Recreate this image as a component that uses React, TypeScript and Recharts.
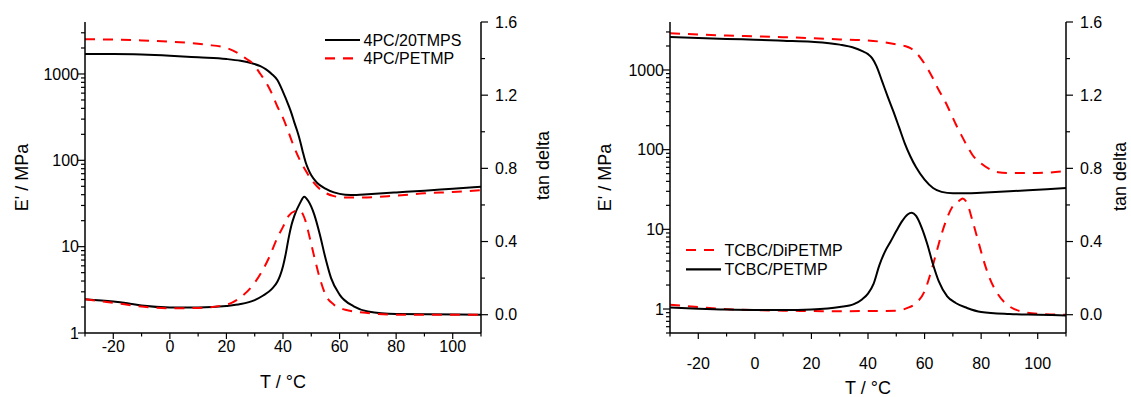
import React from 'react';
import { ComposedChart, Line, XAxis, YAxis, Legend, Label } from 'recharts';

const FONT = '"Liberation Sans", Arial, Helvetica, sans-serif';
const BLACK = '#000000';
const RED = '#ff0000';
const DASH = '10 8';

// ---------- Panel A: 4PC/20TMPS (black) and 4PC/PETMP (red) ----------
const A_TMPS_E_T = [-30, -20, -10, 0, 10, 20, 25, 29, 32, 34, 36, 38, 40, 42, 43, 44, 45, 46, 47, 48, 49, 50, 52, 55, 58, 62, 66, 70, 80, 90, 100, 110];
const A_TMPS_E = [1700, 1700, 1680, 1630, 1560, 1490, 1420, 1330, 1230, 1130, 1000, 850, 620, 430, 350, 275, 220, 170, 125, 95, 78, 67, 55, 47, 42.5, 40, 39.7, 40.5, 42.5, 44.5, 47, 49.5];

const A_PETMP_E_T = [-30, -20, -10, 0, 13, 20, 24, 27, 29.5, 32, 34, 36, 38, 40, 42, 44, 46, 48, 50, 52, 55, 58, 62, 68, 80, 90, 100, 110];
const A_PETMP_E = [2530, 2500, 2450, 2370, 2180, 2000, 1750, 1500, 1300, 1000, 800, 600, 420, 310, 210, 140, 100, 76, 60, 50, 42, 38.5, 37, 37, 39, 41.5, 43, 45];

const A_TMPS_TAN_T = [-30, -20, -15, -10, 0, 10, 20, 25, 30, 33, 36, 38, 39, 40, 41, 42, 43, 44, 46, 47.5, 49, 51, 53, 55, 57, 60, 65, 70, 80, 110];
const A_TMPS_TAN = [0.085, 0.072, 0.062, 0.05, 0.04, 0.04, 0.048, 0.058, 0.08, 0.105, 0.14, 0.18, 0.215, 0.265, 0.335, 0.42, 0.49, 0.54, 0.61, 0.645, 0.62, 0.55, 0.44, 0.31, 0.2, 0.11, 0.046, 0.018, 0.004, 0.0];

const A_PETMP_TAN_T = [-30, -20, -10, 0, 10, 20, 25, 30, 35, 38, 40, 42, 44, 46, 47, 48, 49, 51, 53, 55, 58, 62, 70, 80, 110];
const A_PETMP_TAN = [0.085, 0.065, 0.045, 0.035, 0.037, 0.055, 0.095, 0.175, 0.31, 0.42, 0.48, 0.54, 0.565, 0.57, 0.55, 0.51, 0.45, 0.32, 0.2, 0.11, 0.055, 0.027, 0.009, 0.0, 0.0];

// ---------- Panel B: TCBC/DiPETMP (red) and TCBC/PETMP (black) ----------
const B_PETMP_E_T = [-30, -10, 0, 10, 20, 30, 35, 38, 40, 41.5, 43, 45, 47, 49, 51, 53, 55, 57, 60, 63, 66, 70, 75, 80, 90, 100, 110];
const B_PETMP_E = [2590, 2450, 2400, 2330, 2260, 2080, 1900, 1720, 1580, 1400, 1120, 720, 460, 300, 190, 120, 82, 60, 42, 33, 29.5, 28.3, 28.3, 28.8, 30, 31.4, 32.9];

const B_DIPETMP_E_T = [-30, -10, 0, 10, 20, 30, 40, 45, 50, 53, 55, 57, 59, 61, 63, 65, 67, 69, 71, 73, 75, 77, 80, 83, 86, 90, 100, 110];
const B_DIPETMP_E = [2900, 2700, 2650, 2580, 2510, 2420, 2345, 2250, 2100, 2000, 1880, 1650, 1350, 1050, 780, 560, 420, 300, 210, 152, 112, 85, 67, 57, 52, 51, 51, 54];

const B_PETMP_TAN_T = [-30, -20, -10, 0, 10, 20, 30, 35, 38, 40, 42, 44, 46, 48, 50, 52, 54, 55.5, 57, 59, 61, 63, 65, 68, 71, 75, 80, 90, 100, 110];
const B_PETMP_TAN = [0.04, 0.033, 0.028, 0.026, 0.026, 0.029, 0.042, 0.058, 0.085, 0.115, 0.17, 0.27, 0.345, 0.4, 0.457, 0.51, 0.548, 0.557, 0.54, 0.475, 0.384, 0.274, 0.183, 0.1, 0.064, 0.037, 0.015, 0.004, 0.0, -0.004];

const B_DIPETMP_TAN_T = [-30, -20, -10, 0, 10, 20, 30, 40, 50, 54, 57, 60, 62, 64, 66, 68, 70, 72, 73.5, 75, 77, 79, 81, 83, 86, 90, 95, 100, 110];
const B_DIPETMP_TAN = [0.055, 0.042, 0.03, 0.025, 0.022, 0.02, 0.019, 0.02, 0.022, 0.037, 0.064, 0.128, 0.22, 0.33, 0.44, 0.53, 0.594, 0.62, 0.635, 0.61, 0.51, 0.4, 0.29, 0.2, 0.11, 0.046, 0.015, 0.005, 0.0];

// ---------- Axes ----------
const X_DOMAIN = [-30, 110];
const X_TICKS = [-30, -20, -10, 0, 10, 20, 30, 40, 50, 60, 70, 80, 90, 100, 110];
const X_LABELS = [-20, 0, 20, 40, 60, 80, 100];
const TAN_DOMAIN = [-0.1, 1.6];
const TAN_TICKS = [0, 0.2, 0.4, 0.6, 0.8, 1.0, 1.2, 1.4, 1.6];
const TAN_LABELS = [0, 0.4, 0.8, 1.2, 1.6];
const LOG_LABELS = [1, 10, 100, 1000];
const LOG_TICKS_A = [1, 2, 3, 4, 5, 6, 7, 8, 9, 10, 20, 30, 40, 50, 60, 70, 80, 90, 100, 200, 300, 400, 500, 600, 700, 800, 900, 1000, 2000, 3000];
const LOG_TICKS_B = [0.5, 0.6, 0.7, 0.8, 0.9, ...LOG_TICKS_A];
const E_DOMAIN_A = [1, 4000];
const E_DOMAIN_B = [0.5, 4000];

type Pt = { T: number; v: number };
const zip = (ts: number[], vs: number[]): Pt[] => ts.map((t, i) => ({ T: t, v: vs[i] }));

type Series = { name: string; color: string; dash?: string; eT: number[]; e: number[]; tT: number[]; tan: number[] };

const SERIES_A: Series[] = [
  { name: '4PC/20TMPS', color: BLACK, eT: A_TMPS_E_T, e: A_TMPS_E, tT: A_TMPS_TAN_T, tan: A_TMPS_TAN },
  { name: '4PC/PETMP', color: RED, dash: DASH, eT: A_PETMP_E_T, e: A_PETMP_E, tT: A_PETMP_TAN_T, tan: A_PETMP_TAN },
];
const SERIES_B: Series[] = [
  { name: 'TCBC/DiPETMP', color: RED, dash: DASH, eT: B_DIPETMP_E_T, e: B_DIPETMP_E, tT: B_DIPETMP_TAN_T, tan: B_DIPETMP_TAN },
  { name: 'TCBC/PETMP', color: BLACK, eT: B_PETMP_E_T, e: B_PETMP_E, tT: B_PETMP_TAN_T, tan: B_PETMP_TAN },
];

const TXT = { fontFamily: FONT, fontSize: 16, fill: '#000' } as const;
const TITLE = { fontFamily: FONT, fontSize: 18, fill: '#000' } as const;

const LeftLogTick = (p: any) => {
  const { x, y, payload } = p;
  const v = payload.value;
  const major = LOG_LABELS.includes(v);
  return (
    <g>
      <line x1={x} x2={x - (major ? 7 : 4)} y1={y} y2={y} stroke="#000" strokeWidth={1.2} />
      {major && (
        <text x={x - 6} y={y} dy="0.36em" textAnchor="end" {...TXT}>{String(v)}</text>
      )}
    </g>
  );
};

const RightTanTick = (p: any) => {
  const { x, y, payload } = p;
  const v = payload.value;
  const major = TAN_LABELS.some((m) => Math.abs(m - v) < 1e-9);
  return (
    <g>
      <line x1={x} x2={x + (major ? 7 : 4)} y1={y} y2={y} stroke="#000" strokeWidth={1.2} />
      {major && (
        <text x={x + 14} y={y} dy="0.36em" textAnchor="start" {...TXT}>{v.toFixed(1)}</text>
      )}
    </g>
  );
};

const makeBottomTick = (labelDy: number) => (p: any) => {
  const { x, y, payload } = p;
  const v = payload.value;
  const major = X_LABELS.includes(v);
  return (
    <g>
      <line x1={x} x2={x} y1={y} y2={y + (major ? 6 : 3.5)} stroke="#000" strokeWidth={1.2} />
      {major && (
        <text x={x} y={y + labelDy} dy="0.36em" textAnchor="middle" {...TXT}>{String(v)}</text>
      )}
    </g>
  );
};

const makeLegend = (series: Series[], rowGap: number) => (props: any) => {
  const payload: any[] = props.payload || [];
  const items = series.filter((s) => payload.some((pl) => pl.value === s.name));
  return (
    <svg width={200} height={50} style={{ display: 'block' }}>
      {items.map((s, i) => {
        const cy = 9 + i * rowGap;
        return (
          <g key={s.name}>
            <line x1={0} x2={35} y1={cy} y2={cy} stroke={s.color} strokeWidth={2.2} strokeDasharray={s.dash} />
            <text x={38.5} y={cy} dy="0.36em" {...TXT}>{s.name}</text>
          </g>
        );
      })}
    </svg>
  );
};

type PanelProps = {
  left: number;
  width: number;
  leftW: number;
  rightW: number;
  series: Series[];
  eDomain: number[];
  eTicks: number[];
  xLabelDy: number;
  xTitleDy: number;
  yTitleOff: number;
  tanTitleOff: number;
  tanTitleDy: number;
  legendX: number;
  legendY: number;
  legendGap: number;
};

const Panel = (pp: PanelProps) => {
  const BottomTick = makeBottomTick(pp.xLabelDy);
  return (
    <div style={{ position: 'absolute', left: pp.left, top: 0, width: pp.width, height: 397 }}>
      <ComposedChart width={pp.width} height={397} margin={{ top: 22, right: 0, bottom: 24, left: 0 }}>
        <XAxis
          xAxisId="x"
          dataKey="T"
          type="number"
          domain={X_DOMAIN}
          ticks={X_TICKS}
          interval={0}
          allowDataOverflow
          height={40}
          tickSize={0}
          tickMargin={0}
          tickLine={false}
          tick={BottomTick}
          axisLine={{ stroke: '#000', strokeWidth: 1.5 }}
        >
          <Label
            content={(lp: any) => {
              const vb = lp.viewBox;
              return (
                <text x={vb.x + vb.width / 2} y={vb.y + pp.xTitleDy} dy="0.36em" textAnchor="middle" {...TITLE}>
                  T / °C
                </text>
              );
            }}
          />
        </XAxis>
        <XAxis
          xAxisId="top"
          orientation="top"
          type="number"
          domain={X_DOMAIN}
          height={0}
          tick={false}
          tickLine={false}
          axisLine={{ stroke: '#000', strokeWidth: 1.5 }}
        />
        <YAxis
          yAxisId="E"
          orientation="left"
          scale="log"
          type="number"
          domain={pp.eDomain}
          ticks={pp.eTicks}
          interval={0}
          allowDataOverflow
          width={pp.leftW}
          tickSize={0}
          tickMargin={0}
          tickLine={false}
          tick={LeftLogTick}
          axisLine={{ stroke: '#000', strokeWidth: 1.5 }}
        >
          <Label
            content={(lp: any) => {
              const vb = lp.viewBox;
              const cx = vb.x + vb.width - pp.yTitleOff;
              const cy = vb.y + vb.height / 2;
              return (
                <text x={cx} y={cy} dy="0.36em" textAnchor="middle" transform={`rotate(-90 ${cx} ${cy})`} {...TITLE}>
                  E' / MPa
                </text>
              );
            }}
          />
        </YAxis>
        <YAxis
          yAxisId="tan"
          orientation="right"
          type="number"
          domain={TAN_DOMAIN}
          ticks={TAN_TICKS}
          interval={0}
          allowDataOverflow
          width={pp.rightW}
          tickSize={0}
          tickMargin={0}
          tickLine={false}
          tick={RightTanTick}
          axisLine={{ stroke: '#000', strokeWidth: 1.5 }}
        >
          <Label
            content={(lp: any) => {
              const vb = lp.viewBox;
              const cx = vb.x + pp.tanTitleOff;
              const cy = vb.y + vb.height / 2 + pp.tanTitleDy;
              return (
                <text x={cx} y={cy} dy="0.36em" textAnchor="middle" transform={`rotate(-90 ${cx} ${cy})`} {...TITLE}>
                  tan delta
                </text>
              );
            }}
          />
        </YAxis>
        <Legend
          layout="horizontal"
          verticalAlign="middle"
          align="center"
          wrapperStyle={{ left: pp.legendX, top: pp.legendY, width: 200, height: 50, margin: 0, padding: 0 }}
          content={makeLegend(pp.series, pp.legendGap)}
        />
        {pp.series.map((s) => (
          <Line
            key={s.name + '-E'}
            name={s.name}
            data={zip(s.eT, s.e)}
            dataKey="v"
            xAxisId="x"
            yAxisId="E"
            type="monotone"
            stroke={s.color}
            strokeWidth={2}
            strokeDasharray={s.dash}
            dot={false}
            activeDot={false}
            legendType="line"
            isAnimationActive={false}
          />
        ))}
        {pp.series.map((s) => (
          <Line
            key={s.name + '-tan'}
            name={s.name + ' tan'}
            data={zip(s.tT, s.tan)}
            dataKey="v"
            xAxisId="x"
            yAxisId="tan"
            type="monotone"
            stroke={s.color}
            strokeWidth={2}
            strokeDasharray={s.dash}
            dot={false}
            activeDot={false}
            legendType="none"
            isAnimationActive={false}
          />
        ))}
      </ComposedChart>
    </div>
  );
}
;

export default function App() {
  return (
    <div style={{ position: 'absolute', left: 0, top: 0, width: 1131, height: 397, background: '#fff', fontFamily: FONT }}>
      <Panel
        left={0}
        width={565}
        leftW={85}
        rightW={84}
        series={SERIES_A}
        eDomain={E_DOMAIN_A}
        eTicks={LOG_TICKS_A}
        xLabelDy={13.5}
        xTitleDy={48.5}
        yTitleOff={63}
        tanTitleOff={62}
        tanTitleDy={-12}
        legendX={325}
        legendY={31}
        legendGap={18.3}
      />
      <Panel
        left={565}
        width={566}
        leftW={105}
        rightW={65}
        series={SERIES_B}
        eDomain={E_DOMAIN_B}
        eTicks={LOG_TICKS_B}
        xLabelDy={30}
        xTitleDy={54.5}
        yTitleOff={65}
        tanTitleOff={54}
        tanTitleDy={-1}
        legendX={121}
        legendY={241}
        legendGap={19.3}
      />
    </div>
  );
}
